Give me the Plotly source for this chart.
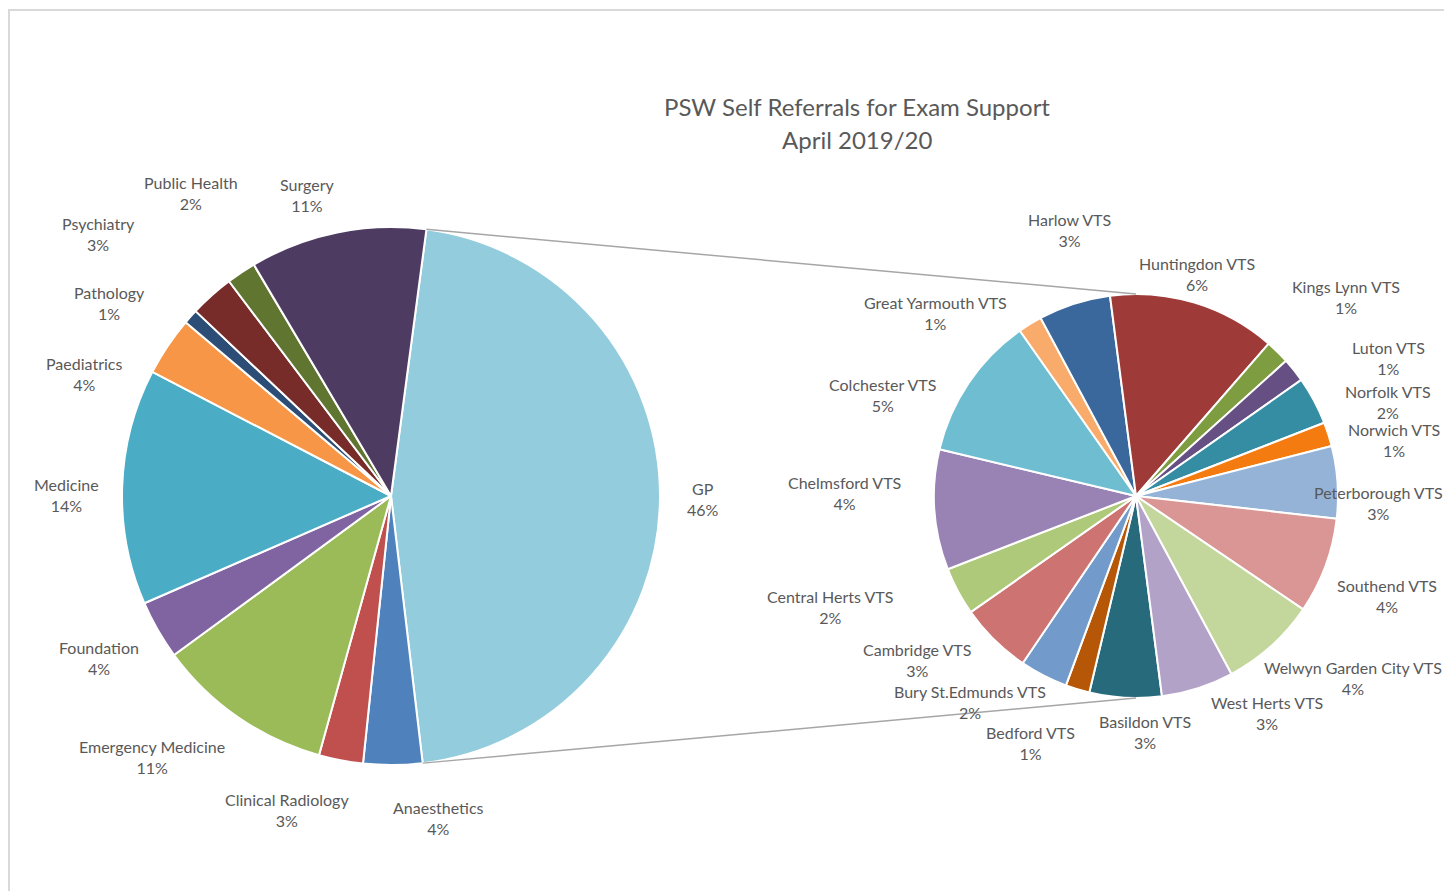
import math
import plotly.graph_objects as go

# ---------------- data ----------------
main_labels = ["GP", "Anaesthetics", "Clinical Radiology", "Emergency Medicine", "Foundation",
               "Medicine", "Paediatrics", "Pathology", "Psychiatry", "Public Health", "Surgery"]
main_values = [52, 4, 3, 12, 4, 16, 4, 1, 3, 2, 12]

sub_labels = ["Basildon VTS", "Bedford VTS", "Bury St.Edmunds VTS", "Cambridge VTS", "Central Herts VTS",
              "Chelmsford VTS", "Colchester VTS", "Great Yarmouth VTS", "Harlow VTS", "Huntingdon VTS",
              "Kings Lynn VTS", "Luton VTS", "Norfolk VTS", "Norwich VTS", "Peterborough VTS",
              "Southend VTS", "Welwyn Garden City VTS", "West Herts VTS"]
sub_values = [3, 1, 2, 3, 2, 5, 6, 1, 3, 7, 1, 1, 2, 1, 3, 4, 4, 3]

title_lines = ["PSW Self Referrals for Exam Support", "April 2019/20"]

# ---------------- styles ----------------
main_colors = ["#93CDDD", "#4F81BD", "#C0504D", "#9BBB59", "#8064A2", "#4BACC6",
               "#F79646", "#2C4D75", "#772C2A", "#5F7530", "#4D3B62"]
sub_colors = ["#276A7C", "#B65708", "#729ACA", "#CD7371", "#AFC97A", "#9983B5",
              "#6FBDD1", "#F9AB6B", "#3A679C", "#9E3B38", "#7E9D40", "#664F83",
              "#358DA4", "#F47B0F", "#95B3D7", "#D99694", "#C3D69B", "#B2A2C7"]

W, H = 1444, 891
FONT = "Lato"
TXT = "#595959"
L_CX, L_CY, L_R = 391, 496, 269
R_CX, R_CY, R_R = 1136, 496, 202
SUB_START = 172.6
MAIN_TILT = 0.4
GAP = 20

# per-label pixel nudges (collision avoidance like the source)
NUDGE = {
    "GP": (7, 1), "Anaesthetics": (45, 12), "Clinical Radiology": (-37, 9),
    "Emergency Medicine": (-34, 6), "Foundation": (-7, 8), "Medicine": (-4, 10),
    "Paediatrics": (-30, 51), "Pathology": (-39, 14), "Psychiatry": (-73, -31),
    "Public Health": (-10, -46), "Surgery": (-20, 3),
    "Basildon VTS": (23, -7), "Bedford VTS": (-28, 14), "Bury St.Edmunds VTS": (-30, -10),
    "Cambridge VTS": (-27, -9), "Central Herts VTS": (-50, -4), "Chelmsford VTS": (-14, -20),
    "Colchester VTS": (-23, 35), "Great Yarmouth VTS": (-46, 24), "Harlow VTS": (14, -35),
    "Huntingdon VTS": (-19, 11), "Kings Lynn VTS": (15, -26), "Luton VTS": (51, 13),
    "Norfolk VTS": (18, 21), "Norwich VTS": (5, 18), "Peterborough VTS": (-43, 24),
    "Southend VTS": (-2, 16), "Welwyn Garden City VTS": (10, 1), "West Herts VTS": (46, -14),
}

total = sum(main_values)


def pct(v):
    return int(100.0 * v / total + 0.5)


def px(x):
    return x / W


def py(y):
    return 1 - y / H


def domain(cx, cy, r):
    return dict(x=[px(cx - r), px(cx + r)], y=[py(cy + r), py(cy - r)])


gp_share = main_values[0] / total
main_start = 90 - gp_share * 180 + MAIN_TILT

fig = go.Figure()
fig.add_trace(go.Pie(labels=main_labels, values=main_values, sort=False, direction="clockwise",
                     rotation=main_start, marker=dict(colors=main_colors, line=dict(color="white", width=2)),
                     textinfo="none", hoverinfo="label+value", domain=domain(L_CX, L_CY, L_R),
                     showlegend=False))
fig.add_trace(go.Pie(labels=sub_labels, values=sub_values, sort=False, direction="clockwise",
                     rotation=SUB_START, marker=dict(colors=sub_colors, line=dict(color="white", width=2)),
                     textinfo="none", hoverinfo="label+value", domain=domain(R_CX, R_CY, R_R),
                     showlegend=False))

annotations = []


def add_labels(labels, values, start, cx, cy, r):
    tot = sum(values)
    a = start
    for lab, v in zip(labels, values):
        span = 360.0 * v / tot
        mid = math.radians(a + span / 2)
        a += span
        s, c = math.sin(mid), math.cos(mid)
        text = f"{lab}<br>{pct(v)}%"
        w = 8 * max(len(lab), 4)
        h = 42
        R = r + GAP
        x = cx + R * s + s * w / 2
        y = cy - R * c - c * h / 2
        dx, dy = NUDGE.get(lab, (0, 0))
        annotations.append(dict(x=px(x + dx), y=py(y + dy), xref="paper", yref="paper", text=text,
                                showarrow=False, xanchor="center", yanchor="middle", align="center",
                                font=dict(family=FONT, size=16, color=TXT)))


add_labels(main_labels, main_values, main_start, L_CX, L_CY, L_R)
add_labels(sub_labels, sub_values, SUB_START, R_CX, R_CY, R_R)

# title
annotations.append(dict(x=px(857), y=py(106), xref="paper", yref="paper", text=title_lines[0],
                        showarrow=False, xanchor="center", yanchor="middle",
                        font=dict(family=FONT, size=24, color=TXT)))
annotations.append(dict(x=px(857), y=py(139), xref="paper", yref="paper", text=title_lines[1],
                        showarrow=False, xanchor="center", yanchor="middle",
                        font=dict(family=FONT, size=24, color=TXT)))

# connector lines from the GP slice edges to the sub pie
a0 = math.radians(main_start)
a1 = math.radians(main_start + gp_share * 360)
shapes = [
    dict(type="line", xref="paper", yref="paper",
         x0=px(L_CX + L_R * math.sin(a0)), y0=py(L_CY - L_R * math.cos(a0)),
         x1=px(R_CX), y1=py(R_CY - R_R), line=dict(color="#A6A6A6", width=1.5)),
    dict(type="line", xref="paper", yref="paper",
         x0=px(L_CX + L_R * math.sin(a1)), y0=py(L_CY - L_R * math.cos(a1)),
         x1=px(R_CX), y1=py(R_CY + R_R), line=dict(color="#A6A6A6", width=1.5)),
    # chart frame
    dict(type="rect", xref="paper", yref="paper", x0=px(9), x1=px(W + 20), y0=py(H + 20), y1=py(10),
         line=dict(color="#D9D9D9", width=2), layer="below"),
]

fig.update_layout(width=W, height=H, margin=dict(l=0, r=0, t=0, b=0),
                  paper_bgcolor="white", plot_bgcolor="white",
                  annotations=annotations, shapes=shapes)

fig.write_html("out.html")
